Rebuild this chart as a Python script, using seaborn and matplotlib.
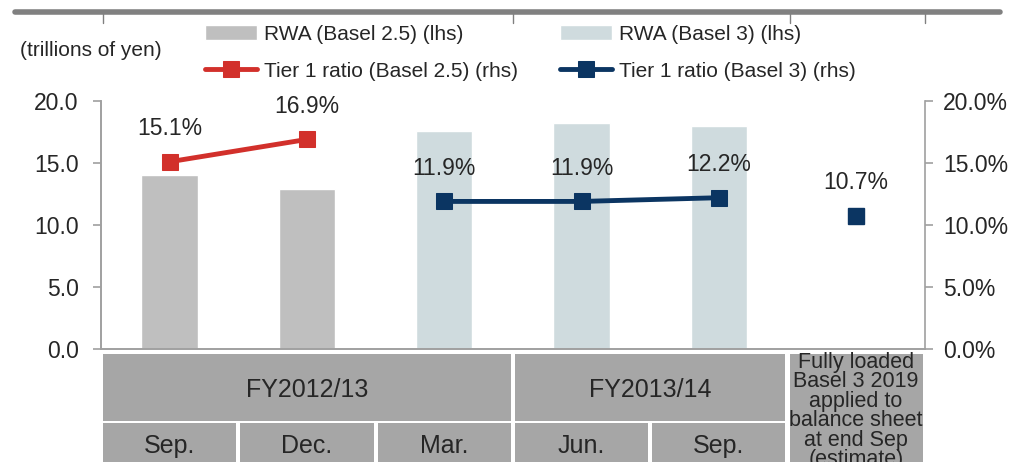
import numpy as np
import pandas as pd
import seaborn as sns
import matplotlib.pyplot as plt
from matplotlib.patches import Rectangle
from matplotlib.lines import Line2D

sns.set_style("white")
plt.rcParams['font.family'] = ['Liberation Sans', 'DejaVu Sans']

# data
periods = ["Sep. 12", "Dec. 12", "Mar. 13", "Jun. 13", "Sep. 13", "Full"]
rwa = [14.0, 12.9, 17.6, 18.2, 18.0, np.nan]
basis = ["Basel 2.5", "Basel 2.5", "Basel 3", "Basel 3", "Basel 3", "Basel 3"]
t1_b25 = [15.1, 16.9]
t1_b3 = [11.9, 11.9, 12.2]
t1_full = [10.7]
month_labels = ["Sep.", "Dec.", "Mar.", "Jun.", "Sep."]
fy_labels = ["FY2012/13", "FY2013/14"]
full_label = "Fully loaded\nBasel 3 2019\napplied to\nbalance sheet\nat end Sep\n(estimate)"

grey = "#bfbfbf"
lblue = "#cddde0"
red = "#d2302b"
navy = "#0b3562"
cell = "#a6a6a6"
axc = "#a0a0a0"

df = pd.DataFrame({"period": periods, "rwa": rwa, "basis": basis})

fig = plt.figure(figsize=(10.17, 4.62), dpi=100)
ax = fig.add_axes([0.0993, 0.2446, 0.81, 0.5368])

sns.barplot(data=df, x="period", y="rwa", hue="basis", order=periods,
            palette={"Basel 2.5": grey, "Basel 3": lblue}, dodge=False,
            width=0.41, ax=ax)
ax.set_xlim(-0.5, 5.5)
ax.set_ylim(0, 20)
ax.set_yticks([0, 5, 10, 15, 20])
ax.set_yticklabels(["0.0", "5.0", "10.0", "15.0", "20.0"], fontsize=16.5)
ax.set_xticks([])
ax.set_xlabel("")
ax.set_ylabel("")
bar_h, bar_l = ax.get_legend_handles_labels()
ax.get_legend().remove()

ax2 = ax.twinx()
sns.lineplot(x=[0, 1], y=t1_b25, color=red, lw=3.5, marker="s", markersize=11,
             markeredgecolor=red, ax=ax2, label="Tier 1 ratio (Basel 2.5) (rhs)")
sns.lineplot(x=[2, 3, 4], y=t1_b3, color=navy, lw=3.5, marker="s", markersize=11,
             markeredgecolor=navy, ax=ax2, label="Tier 1 ratio (Basel 3) (rhs)")
ax2.plot([5], t1_full, ls="none", marker="s", markersize=11, color=navy)
line_h, line_l = ax2.get_legend_handles_labels()
ax2.get_legend().remove()
ax2.set_ylim(0, 20)
ax2.set_yticks([0, 5, 10, 15, 20])
ax2.set_yticklabels(["0.0%", "5.0%", "10.0%", "15.0%", "20.0%"], fontsize=16.5)
ax2.set_ylabel("")

for xs, ys in [([0, 1], t1_b25), ([2, 3, 4], t1_b3), ([5], t1_full)]:
    for x, y in zip(xs, ys):
        ax2.annotate(f"{y:.1f}%", (x, y), xytext=(0, 24), textcoords="offset points",
                     ha="center", va="center", fontsize=16.5)

for a in (ax, ax2):
    for s in a.spines.values():
        s.set_color(axc)
        s.set_linewidth(1.2)
    a.spines["top"].set_visible(False)
    a.tick_params(axis="y", direction="out", length=6, color=axc, width=1.2)
ax.spines["right"].set_visible(False)
ax.tick_params(axis="y", left=True, pad=10)
ax2.tick_params(axis="y", right=True, pad=7)

# category table below the axis
tr = ax.get_xaxis_transform()
g = 0.015
def cellbox(x0, x1, y0, y1):
    ax.add_patch(Rectangle((x0 + g, y0), x1 - x0 - 2 * g, y1 - y0, transform=tr,
                           facecolor=cell, edgecolor="none", clip_on=False))

cellbox(-0.5, 2.5, -0.29, -0.02)
cellbox(2.5, 4.5, -0.29, -0.02)
cellbox(4.5, 5.5, -0.5, -0.02)
for i in range(5):
    cellbox(i - 0.5, i + 0.5, -0.5, -0.298)
    ax.text(i, -0.39, month_labels[i], transform=tr, ha="center", va="center", fontsize=18)
ax.text(1, -0.165, fy_labels[0], transform=tr, ha="center", va="center", fontsize=18)
ax.text(3.5, -0.165, fy_labels[1], transform=tr, ha="center", va="center", fontsize=18)
ax.text(5, -0.012, full_label, transform=tr, ha="center", va="top", fontsize=15.5,
        linespacing=0.9)

# legend
fig.legend([bar_h[0], line_h[0], bar_h[1], line_h[1]],
           ["RWA (Basel 2.5) (lhs)", "Tier 1 ratio (Basel 2.5) (rhs)",
            "RWA (Basel 3) (lhs)", "Tier 1 ratio (Basel 3) (rhs)"],
           ncol=2, loc="upper left", bbox_to_anchor=(0.2016, 0.946), frameon=False,
           fontsize=15, handlelength=2.5, handletextpad=0.35, columnspacing=2.0,
           labelspacing=0.85, borderpad=0, borderaxespad=0)
fig.text(0.02, 0.89, "(trillions of yen)", fontsize=15, va="center")

# remnant of frame above
fig.add_artist(Line2D([0.015, 0.983], [0.975, 0.975], color="#808080", lw=4))
for xp in [0.101, 0.504, 0.777, 0.91]:
    fig.add_artist(Line2D([xp, xp], [0.975, 0.95], color="#808080", lw=1))

fig.savefig("out.png", dpi=100)
